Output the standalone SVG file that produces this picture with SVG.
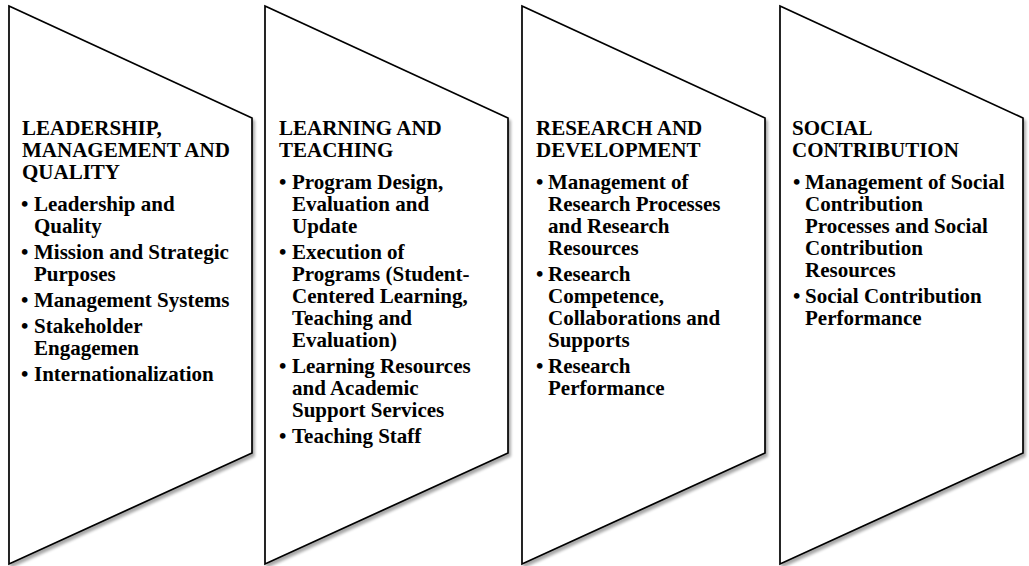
<svg xmlns="http://www.w3.org/2000/svg" width="1029" height="566" viewBox="0 0 1029 566">
  <defs>
    <filter id="shadow" x="-10%" y="-10%" width="130%" height="130%">
      <feGaussianBlur in="SourceAlpha" stdDeviation="1.5"/>
      <feOffset dx="2" dy="2.5" result="b"/>
      <feComponentTransfer><feFuncA type="linear" slope="0.35"/></feComponentTransfer>
      <feMerge><feMergeNode/><feMergeNode in="SourceGraphic"/></feMerge>
    </filter>
    <!-- chevron panel: vertical left edge, slanted top and bottom, shorter right edge -->
    <path id="chevron" d="M0,6 L243,118 L243,453 L0,564 Z"/>
  </defs>
  <style>
    .shape { fill: #ffffff; stroke: #000000; stroke-width: 1.7; stroke-linejoin: miter; filter: url(#shadow); }
    text { font-family: "Liberation Serif", "Times New Roman", serif; font-weight: bold; font-size: 21px; fill: #000000; }
  </style>
  <rect width="1029" height="566" fill="#ffffff"/>

  <g id="leadership">
    <use href="#chevron" class="shape" x="9"/>
    <text x="22" y="135">LEADERSHIP,<tspan x="22" dy="22">MANAGEMENT AND</tspan><tspan x="22" dy="22">QUALITY</tspan></text>
    <text x="21" y="211">•</text>
    <text x="34" y="211">Leadership and<tspan x="34" dy="22">Quality</tspan></text>
    <text x="21" y="259">•</text>
    <text x="34" y="259">Mission and Strategic<tspan x="34" dy="22">Purposes</tspan></text>
    <text x="21" y="307">•</text>
    <text x="34" y="307">Management Systems</text>
    <text x="21" y="333">•</text>
    <text x="34" y="333">Stakeholder<tspan x="34" dy="22">Engagemen</tspan></text>
    <text x="21" y="381">•</text>
    <text x="34" y="381">Internationalization</text>
  </g>

  <g id="learning">
    <use href="#chevron" class="shape" x="265"/>
    <text x="279" y="135">LEARNING AND<tspan x="279" dy="22">TEACHING</tspan></text>
    <text x="279" y="189">•</text>
    <text x="292" y="189">Program Design,<tspan x="292" dy="22">Evaluation and</tspan><tspan x="292" dy="22">Update</tspan></text>
    <text x="279" y="259">•</text>
    <text x="292" y="259">Execution of<tspan x="292" dy="22">Programs (Student-</tspan><tspan x="292" dy="22">Centered Learning,</tspan><tspan x="292" dy="22">Teaching and</tspan><tspan x="292" dy="22">Evaluation)</tspan></text>
    <text x="279" y="373">•</text>
    <text x="292" y="373">Learning Resources<tspan x="292" dy="22">and Academic</tspan><tspan x="292" dy="22">Support Services</tspan></text>
    <text x="279" y="443">•</text>
    <text x="292" y="443">Teaching Staff</text>
  </g>

  <g id="research">
    <use href="#chevron" class="shape" x="522"/>
    <text x="536" y="135">RESEARCH AND<tspan x="536" dy="22">DEVELOPMENT</tspan></text>
    <text x="536" y="189">•</text>
    <text x="548" y="189">Management of<tspan x="548" dy="22">Research Processes</tspan><tspan x="548" dy="22">and Research</tspan><tspan x="548" dy="22">Resources</tspan></text>
    <text x="536" y="281">•</text>
    <text x="548" y="281">Research<tspan x="548" dy="22">Competence,</tspan><tspan x="548" dy="22">Collaborations and</tspan><tspan x="548" dy="22">Supports</tspan></text>
    <text x="536" y="373">•</text>
    <text x="548" y="373">Research<tspan x="548" dy="22">Performance</tspan></text>
  </g>

  <g id="social">
    <use href="#chevron" class="shape" x="780"/>
    <text x="792" y="135">SOCIAL<tspan x="792" dy="22">CONTRIBUTION</tspan></text>
    <text x="793" y="189">•</text>
    <text x="805" y="189">Management of Social<tspan x="805" dy="22">Contribution</tspan><tspan x="805" dy="22">Processes and Social</tspan><tspan x="805" dy="22">Contribution</tspan><tspan x="805" dy="22">Resources</tspan></text>
    <text x="793" y="303">•</text>
    <text x="805" y="303">Social Contribution<tspan x="805" dy="22">Performance</tspan></text>
  </g>

  <g id="connectors"/>
</svg>
